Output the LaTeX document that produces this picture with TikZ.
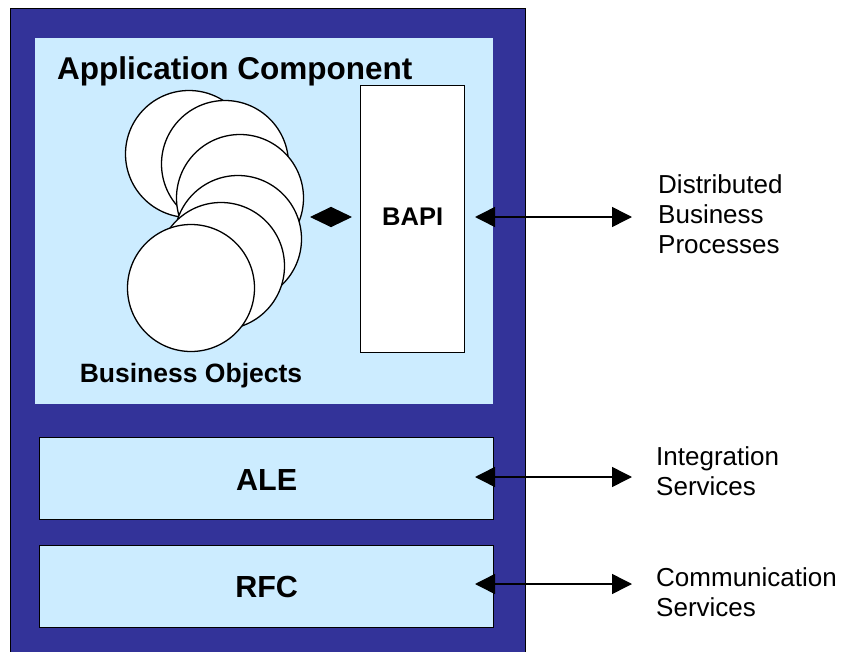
\documentclass[tikz,border=0pt]{standalone}
\usepackage{fontspec}
\setmainfont{Liberation Sans}
\usetikzlibrary{arrows.meta}
\definecolor{frameblue}{HTML}{333399}
\definecolor{paleblue}{HTML}{CCECFF}
\tikzset{
  x=1bp, y=-1bp,
  outline/.style={draw=black, line width=1.3bp},
  layerbox/.style={outline, fill=paleblue, anchor=north west, inner sep=0pt},
  bo/.style={circle, outline, fill=white, minimum size=127bp, inner sep=0pt},
  biarrow/.style={line width=1.5bp, {Triangle[length=20bp,width=20bp]}-{Triangle[length=20bp,width=20bp]}},
  smallarrow/.style={line width=1bp, {Triangle[length=21bp,width=20bp]}-{Triangle[length=21bp,width=20bp]}},
  boldlabel/.style={font=\bfseries\fontsize{#1}{#1}\selectfont, inner sep=0pt},
  sidelabel/.style={font=\fontsize{26bp}{30bp}\selectfont, align=left, anchor=base west, inner sep=0pt},
}
\begin{document}
\begin{tikzpicture}
\useasboundingbox (0,0) rectangle (843,652);

% outer frame of the SAP system
\node[outline, fill=frameblue, anchor=north west, inner sep=0pt,
      minimum width=515bp, minimum height=644bp] (frame) at (10,8) {};

% application component area
\node[fill=paleblue, anchor=north west, inner sep=0pt,
      minimum width=458bp, minimum height=366bp] (app) at (35,38) {};
\node[boldlabel=31.5bp, anchor=base west] (apptitle) at (57,80) {Application Component};

% stacked business objects, back to front
\node[bo] (bo1) at (189,154) {};
\node[bo] (bo2) at (225,164) {};
\node[bo] (bo3) at (240,198) {};
\node[bo] (bo4) at (238,239) {};
\node[bo] (bo5) at (221,266) {};
\node[bo] (bo6) at (191,288) {};
\node[boldlabel=26.5bp, anchor=base] (bolabel) at (191,382) {Business Objects};

% BAPI interface
\node[layerbox, fill=white, minimum width=104bp, minimum height=267bp] (bapi) at (360,85) {};
\node[boldlabel=25.5bp, anchor=base] (bapilabel) at (bapi.center |- 0,225) {BAPI};

% middleware layers
\node[layerbox, minimum width=454bp, minimum height=82bp] (ale) at (39,437) {};
\node[boldlabel=30.5bp, anchor=base] (alelabel) at (ale.center |- 0,490) {ALE};
\node[layerbox, minimum width=454bp, minimum height=82bp] (rfc) at (39,545) {};
\node[boldlabel=30.5bp, anchor=base] (rfclabel) at (rfc.center |- 0,597) {RFC};

% external services (anchored at the baseline of the last line)
\node[sidelabel] (dbp) at (658,253) {Distributed\\Business\\Processes};
\node[sidelabel] (integ) at (656,495) {Integration\\Services};
\node[sidelabel] (comm) at (656,616) {Communication\\Services};

% connector end points
\coordinate (boR) at (310,217);
\coordinate (bapiL) at (352,217);
\coordinate (bapiR) at (475,217);
\coordinate (dbpL) at (632,217);
\coordinate (aleR) at (475,477);
\coordinate (integL) at (632,477);
\coordinate (rfcR) at (475,584);
\coordinate (commL) at (632,584);

% connectors
\draw[smallarrow] (boR) -- (bapiL);
\draw[biarrow] (bapiR) -- (dbpL);
\draw[biarrow] (aleR) -- (integL);
\draw[biarrow] (rfcR) -- (commL);
\end{tikzpicture}
\end{document}
